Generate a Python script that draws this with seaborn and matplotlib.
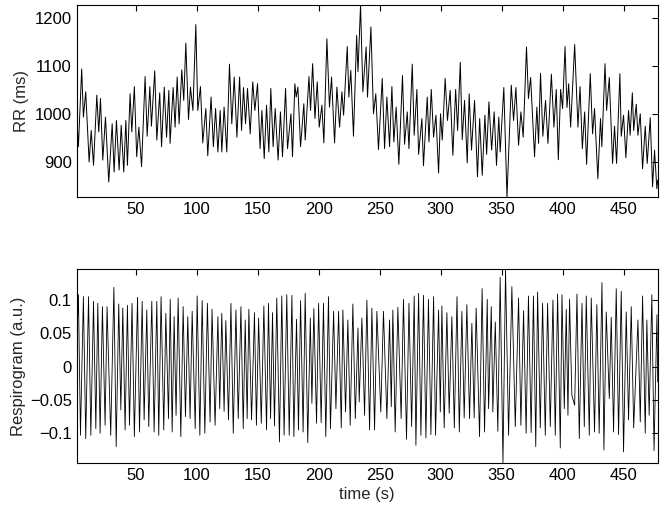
import numpy as np
import pandas as pd
import seaborn as sns
import matplotlib
matplotlib.use("Agg")
import matplotlib.pyplot as plt

# RR intervals (peaks / troughs)
rr_time = [
    1.5, 2.9, 5.6, 7.0, 8.9, 11.7, 13.4, 15.3, 18.0, 19.6, 21.0, 22.9, 25.1, 27.8,
    30.6, 32.2, 34.1, 36.3, 38.0, 40.1, 41.8, 43.1, 45.3, 46.7, 48.8, 50.7, 52.5,
    54.7, 57.6, 59.3, 61.5, 62.8, 65.5, 67.2, 69.6, 71.1, 73.3, 75.2, 77.1, 78.1,
    80.6, 82.2, 83.9, 85.5, 87.7, 89.3, 91.0, 93.2, 94.8, 96.8, 99.2, 100.8, 103.0,
    104.9, 107.4, 109.0, 111.7, 113.6, 115.4, 117.3,
    119.2, 120.5, 122.4, 124.6, 126.8, 128.7, 130.7, 132.9, 135.1, 136.7, 138.3,
    140.0, 141.6, 143.8, 145.9, 147.6, 149.8, 151.9, 153.4, 155.3, 157.2, 159.1,
    160.7, 162.6, 164.3, 166.7, 168.6, 170.3, 172.8, 174.4, 177.2, 178.5, 180.4,
    181.5, 182.9, 185.1, 187.8, 188.9, 192.0, 193.3, 195.0, 196.9, 198.8, 200.4,
    202.6, 204.2, 206.7, 208.8, 210.5, 213.0, 214.9, 217.1, 219.0, 220.4, 223.4,
    224.7, 226.3, 228.5, 231.1, 232.2, 234.3,
    236.2, 238.9, 240.0, 242.8, 244.9, 246.8, 249.0, 252.1, 254.0, 255.9, 258.1,
    260.0, 261.6, 263.5, 265.7, 268.7, 270.4, 272.6, 274.0, 276.7, 278.3, 280.5,
    281.9, 284.6, 285.9, 289.0, 290.4, 292.3, 294.2, 296.1, 298.3, 299.9, 301.3,
    303.7, 305.6, 307.8, 310.0, 312.3, 313.9, 316.1, 317.7, 319.6, 321.8, 323.4,
    325.3, 327.8, 330.2, 332.0, 334.1, 336.3, 337.7, 339.6, 341.8, 343.9, 345.8,
    347.7, 348.8, 351.8, 354.4,
    357.9, 359.8, 361.7, 363.9, 365.8, 367.7, 370.4, 372.0, 373.8, 377.0, 378.9,
    380.3, 381.9, 383.8, 386.0, 388.0, 390.8, 392.9, 394.8, 396.5, 398.4, 400.0,
    402.0, 403.6, 405.0, 406.6, 409.9, 412.6, 414.3, 416.2, 418.1, 419.7, 422.7,
    424.6, 426.2, 428.9, 431.1, 432.2, 434.8, 436.1, 438.3, 441.0, 442.6, 444.3,
    447.0, 448.1, 450.0, 451.9, 454.1, 455.4, 457.2, 458.3, 460.4, 461.8, 463.7,
    465.6, 467.8, 469.4, 471.9, 473.8, 475.4, 477.3, 478.0,
]
rr_ms = [
    997, 931, 1094, 993, 1046, 899, 965, 892, 1039, 962, 1032, 903, 993, 857,
    979, 878, 986, 882, 976, 878, 986, 892, 1042, 962, 1057, 910, 972,
    889, 1078, 953, 1057, 974, 1090, 945, 1044, 931, 1056, 951, 1049, 938,
    1055, 972, 1077, 979, 1092, 1028, 1148, 988, 1056, 1007, 1187, 1007, 1057,
    939, 1011, 912, 1035, 931, 1011, 920,
    1007, 920, 1014, 920, 1104, 979, 1077, 951, 1077, 965, 1055,
    979, 1053, 958, 1067, 1007, 1063, 927, 1007, 906, 1018, 920,
    1053, 931, 1011, 903, 1004, 910, 1053, 927, 1000, 910, 1063,
    1035, 1056, 931, 1021, 945, 1078, 1007, 1105, 990, 1067, 972,
    1018, 939, 1157, 1014, 1077, 939, 1056, 972, 1046, 997, 1141,
    1035, 1091, 953, 1164, 1088, 1228,
    1046, 1140, 1035, 1182, 1000, 1042, 925, 1074, 927, 1035, 931,
    1057, 941, 1014, 894, 1080, 936, 1004, 927, 1104, 955, 1051,
    915, 990, 891, 1035, 941, 1051, 951, 997, 876, 1000, 945,
    1074, 986, 1049, 913, 1051, 965, 1108, 946, 1028, 897, 1042,
    924, 1028, 868, 990, 871, 997, 915, 1025, 924, 1004, 892,
    993, 920, 1055, 825,
    1060, 986, 1055, 934, 1004, 951, 1140, 1032, 1076, 910, 1014,
    938, 1085, 953, 1028, 938, 1083, 972, 1051, 904, 1051, 1011,
    1141, 1013, 1063, 972, 1145, 972, 1057, 927, 1004, 894, 1084,
    958, 1011, 864, 990, 931, 1105, 1007, 1076, 896, 974, 896,
    1084, 953, 997, 908, 1007, 955, 1044, 965, 1020, 955, 1000,
    885, 974, 896, 992, 847, 924, 843, 861,
]

# respirogram (peaks / troughs)
resp_time = [
    1.5, 2.9, 4.6, 7.0, 8.9, 11.2, 13.1, 15.3, 17.2, 18.8, 20.7, 22.6, 24.8, 26.4,
    29.4, 32.0, 33.9, 36.0, 37.7, 39.3, 41.2, 43.1, 44.8, 46.9, 48.8, 51.4, 53.0,
    55.2, 56.8, 59.0, 60.6, 63.1, 65.0, 67.2, 68.8, 70.7, 72.9, 74.6, 76.8, 78.2,
    79.8, 81.4, 83.0, 84.7, 86.9, 88.8, 90.7, 92.6, 94.5, 96.2, 98.7, 100.3, 102.5,
    104.4, 106.6, 108.7, 110.9, 112.5, 115.0, 117.3, 118.8,
    120.5, 122.4, 123.8, 126.0, 128.0, 129.9, 132.1, 134.0, 136.2, 138.1, 139.7,
    141.3, 142.7, 144.9, 147.3, 148.9, 150.7, 152.9, 155.0, 157.2, 158.8, 160.5,
    162.1, 163.7, 165.6, 167.8, 169.7, 171.6, 173.8, 175.8, 178.0, 179.6, 181.8,
    183.4, 185.1, 187.2, 188.9, 191.0, 193.1, 194.4, 196.0, 198.2, 199.9, 202.0,
    203.9, 205.8, 208.0, 209.6, 212.2, 214.1, 216.3, 218.5, 219.8, 222.0, 223.9,
    225.8, 228.0, 230.0, 232.2, 233.2, 235.4, 237.6,
    239.5, 241.7, 243.6, 245.8, 247.7, 250.9, 253.1, 255.9, 258.1, 259.5, 260.8,
    262.7, 264.9, 267.6, 269.5, 272.0, 274.0, 276.2, 278.3, 279.7, 281.9, 283.8,
    285.9, 287.9, 290.0, 292.0, 294.2, 295.8, 298.3, 299.7, 301.0, 302.9, 305.1,
    307.0, 309.2, 311.2, 313.4, 315.3, 317.4, 319.3, 321.5, 323.7, 325.6, 327.5,
    329.1, 331.9, 334.0, 336.0, 338.2, 339.3, 341.5, 342.8, 344.8, 346.9, 348.8,
    351.1, 353.2, 355.7,
    358.4, 361.2, 363.9, 365.8, 368.0, 370.1, 372.0, 374.2, 376.1, 378.0, 379.5,
    381.7, 383.6, 385.8, 387.7, 389.9, 392.1, 394.0, 395.9, 398.1, 399.5, 401.4,
    403.0, 404.4, 405.7, 407.6, 409.9, 411.8, 413.7, 415.9, 417.8, 419.4, 421.9,
    423.5, 426.2, 428.1, 430.0, 432.3, 433.9, 435.8, 438.3, 439.9, 441.8, 444.0,
    445.9, 448.1, 450.0, 452.2, 454.1, 456.3, 458.3, 461.8, 463.7, 465.6, 467.8,
    469.1, 471.0, 473.2, 475.0, 477.4, 478.0,
]
resp_au = [
    0.033, 0.108, -0.103, 0.105, -0.108, 0.105, -0.103, 0.098, -0.093, 0.095, -0.100, 0.090, -0.088, 0.090,
    -0.103, 0.119, -0.120, 0.094, -0.065, 0.088, -0.095, 0.092, -0.088, 0.095, -0.105, 0.104, -0.098,
    0.098, -0.080, 0.085, -0.090, 0.098, -0.098, 0.098, -0.103, 0.105, -0.095, 0.080, -0.078, 0.101,
    -0.098, 0.075, -0.073, 0.103, -0.105, 0.090, -0.075, 0.075, -0.078, 0.083, -0.093, 0.106, -0.103,
    0.099, -0.100, 0.095, -0.083, 0.086, -0.088, 0.075, -0.063,
    0.080, -0.067, 0.069, -0.080, 0.095, -0.100, 0.085, -0.078, 0.090, -0.093, 0.070,
    -0.078, 0.086, -0.080, 0.081, -0.088, 0.073, -0.085, 0.091, -0.095, 0.095, -0.078,
    0.081, -0.089, 0.103, -0.113, 0.106, -0.103, 0.108, -0.103, 0.107, -0.105, 0.071,
    -0.095, 0.099, -0.098, 0.110, -0.114, 0.073, -0.055, 0.087, -0.085, 0.095, -0.084,
    0.095, -0.105, 0.105, -0.093, 0.083, -0.063, 0.083, -0.092, 0.085, -0.068, 0.070,
    -0.088, 0.094, -0.078, 0.058, -0.053, 0.073, -0.073,
    0.100, -0.095, 0.088, -0.095, 0.083, -0.068, 0.083, -0.078, 0.070, -0.060, 0.085,
    -0.098, 0.089, -0.078, 0.101, -0.109, 0.095, -0.090, 0.106, -0.118, 0.110, -0.103,
    0.107, -0.107, 0.101, -0.102, 0.105, -0.103, 0.085, -0.068, 0.091, -0.092, 0.081,
    -0.070, 0.075, -0.092, 0.105, -0.098, 0.083, -0.077, 0.093, -0.078, 0.065, -0.077,
    0.088, -0.105, 0.117, -0.098, 0.101, -0.063, 0.090, -0.068, 0.067, -0.097, 0.134,
    -0.145, 0.146, -0.103,
    0.120, -0.090, 0.103, -0.088, 0.084, -0.100, 0.106, -0.099, 0.106, -0.120, 0.112,
    -0.092, 0.095, -0.103, 0.095, -0.090, 0.100, -0.103, 0.109, -0.122, 0.108, -0.063,
    0.086, -0.073, 0.101, -0.043, -0.058, 0.109, -0.108, 0.095, -0.090, 0.106, -0.103,
    0.103, -0.098, 0.093, -0.100, 0.126, -0.125, 0.082, -0.048, 0.074, -0.098, 0.117,
    -0.102, 0.113, -0.128, 0.082, -0.080, 0.090, -0.092, 0.070, -0.083, 0.106, -0.100,
    0.070, -0.073, 0.108, -0.126, 0.078, -0.023,
]

x_ticks = [50, 100, 150, 200, 250, 300, 350, 400, 450]
rr_ticks = [900, 1000, 1100, 1200]
resp_ticks = [-0.1, -0.05, 0, 0.05, 0.1]
resp_ticklabels = ["\u22120.1", "\u22120.05", "0", "0.05", "0.1"]

rr_df = pd.DataFrame({"time": rr_time, "rr": rr_ms})
resp_df = pd.DataFrame({"time": resp_time, "resp": resp_au})

sns.set_theme(style="white")
plt.rcParams["font.family"] = ["Liberation Sans", "DejaVu Sans"]

fig = plt.figure(figsize=(6.64, 5.09), dpi=100)
ax1 = fig.add_axes([0.1155, 0.6124, 0.875, 0.3778])
ax2 = fig.add_axes([0.1155, 0.0898, 0.875, 0.3811])

sns.lineplot(data=rr_df, x="time", y="rr", ax=ax1, color="black",
             linewidth=0.7, sort=False, estimator=None)
sns.lineplot(data=resp_df, x="time", y="resp", ax=ax2, color="black",
             linewidth=0.6, sort=False, estimator=None)

for ax in (ax1, ax2):
    ax.set_xlim(1.5, 478)
    ax.set_xticks(x_ticks)
    ax.tick_params(direction="in", top=True, right=True, length=4.5, width=0.8,
                   labelsize=12, colors="black", pad=3.5)
    for s in ax.spines.values():
        s.set_color("black")
        s.set_linewidth(0.8)
    ax.set_xlabel("")

ax1.set_ylim(min(rr_ms), max(rr_ms))
ax1.set_yticks(rr_ticks)
ax1.set_ylabel("RR (ms)", fontsize=12, labelpad=4)

ax2.set_ylim(min(resp_au), max(resp_au))
ax2.set_yticks(resp_ticks)
ax2.set_yticklabels(resp_ticklabels)
ax2.set_ylabel("Respirogram (a.u.)", fontsize=12, labelpad=3)
ax2.set_xlabel("time (s)", fontsize=12, labelpad=2.5)

fig.savefig("out.png", dpi=100)
